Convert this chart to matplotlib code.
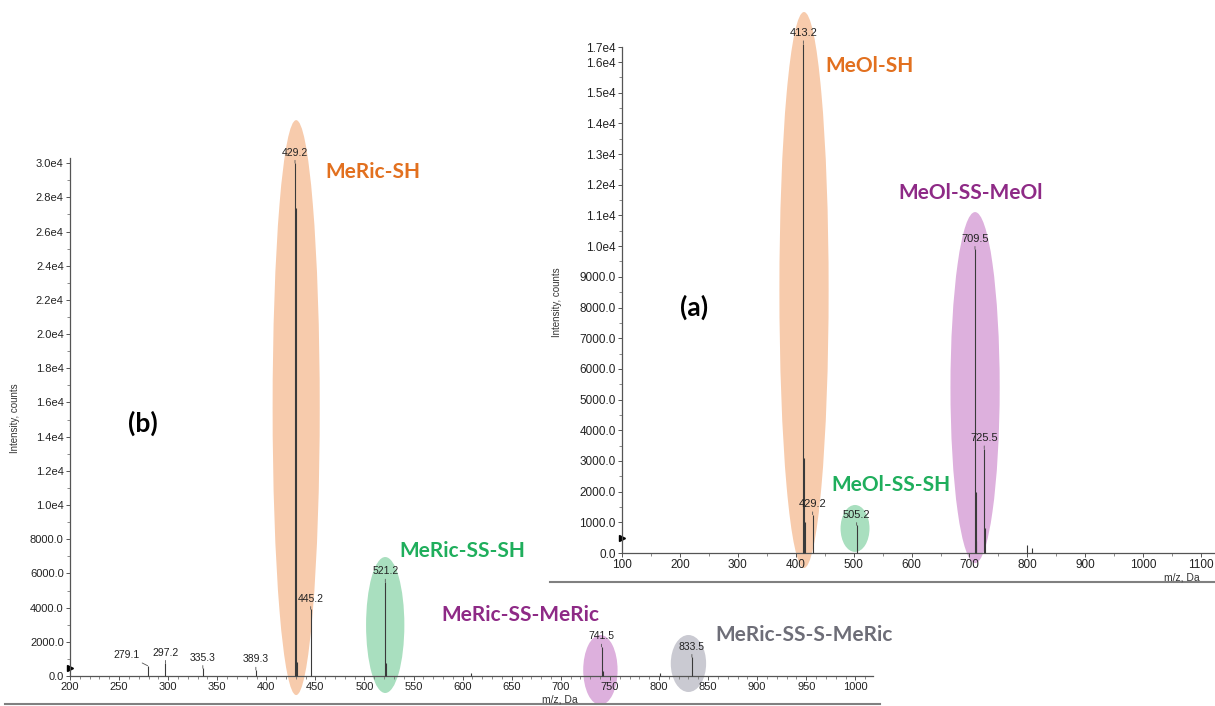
import matplotlib.pyplot as plt
from matplotlib.patches import Ellipse
from matplotlib.lines import Line2D
import numpy as np

# ---- dados do espectro (b) ----
mz_b = [279.1, 297.2, 335.3, 389.3, 429.2, 430.2, 431.2, 445.2, 521.2, 522.2, 608.0, 741.5, 742.5, 801.0, 833.5]
int_b = [600, 750, 450, 350, 30000, 27400, 800, 3900, 5500, 750, 150, 1700, 300, 150, 1100]
rotulos_b = [279.1, 297.2, 335.3, 389.3, 429.2, 445.2, 521.2, 741.5, 833.5]
yticks_b = [0, 2000, 4000, 6000, 8000, 10000, 12000, 14000, 16000, 18000, 20000, 22000, 24000, 26000, 28000, 30000]
yticklabels_b = ['0.0', '2000.0', '4000.0', '6000.0', '8000.0', '1.0e4', '1.2e4', '1.4e4', '1.6e4',
                 '1.8e4', '2.0e4', '2.2e4', '2.4e4', '2.6e4', '2.8e4', '3.0e4']
xticks_b = list(range(200, 1001, 50))

# ---- dados do espectro (a) ----
mz_a = [413.2, 414.2, 415.2, 429.2, 505.2, 709.5, 710.5, 711.5, 725.5, 726.5, 798.5, 807.5]
int_a = [16600, 3100, 1000, 1250, 900, 9900, 2000, 400, 3400, 800, 250, 150]
rotulos_a = [413.2, 429.2, 505.2, 709.5, 725.5]
yticks_a = [0, 1000, 2000, 3000, 4000, 5000, 6000, 7000, 8000, 9000, 10000, 11000, 12000,
            13000, 14000, 15000, 16000, 16490]
yticklabels_a = ['0.0', '1000.0', '2000.0', '3000.0', '4000.0', '5000.0', '6000.0', '7000.0',
                 '8000.0', '9000.0', '1.0e4', '1.1e4', '1.2e4', '1.3e4', '1.4e4', '1.5e4', '1.6e4', '1.7e4']
xticks_a = list(range(100, 1101, 100))

# cores das especies
cor_lar = '#E2701F'
cor_verde = '#1FAE5C'
cor_roxo = '#8E2A86'
cor_cinza = '#6E6E78'

fig = plt.figure(figsize=(12.15, 7.06), dpi=100)
W, H = 1215, 706


def eixo(ax, fs):
    for s in ['top', 'right']:
        ax.spines[s].set_visible(False)
    for s in ['left', 'bottom']:
        ax.spines[s].set_color('#555555')
        ax.spines[s].set_linewidth(0.9)
    ax.tick_params(axis='both', which='major', length=3, width=0.7, color='#555555',
                   labelsize=fs, labelcolor='#222222', pad=1.5)
    ax.tick_params(axis='both', which='minor', length=2, width=0.6, color='#777777')
    for t in ax.get_xticklabels() + ax.get_yticklabels():
        t.set_fontfamily('Liberation Sans')


def picos(ax, mz, it, rot, fs):
    ax.vlines(mz, 0, it, color='#3a3a3a', linewidth=0.8, zorder=3, clip_on=False)
    alt = dict(zip(mz, it))
    for m in rot:
        dx = -15 if m == 279.1 else 0
        ax.annotate(f'{m:.1f}', xy=(m, alt[m]), xytext=(dx, 4), textcoords='offset points',
                    ha='center', va='bottom', fontsize=fs, color='#222222',
                    family='Liberation Sans', zorder=4, annotation_clip=False,
                    arrowprops=dict(arrowstyle='-', color='#555555', lw=0.6, shrinkA=0, shrinkB=0))


# ===== painel (b) =====
ax_b = fig.add_axes([70 / W, 1 - 676 / H, (873 - 70) / W, (676 - 158) / H])
ax_b.set_xlim(200, 1018)
ax_b.set_ylim(0, 30300)
ax_b.set_xticks(xticks_b)
ax_b.set_xticks(np.arange(200, 1019, 10), minor=True)
ax_b.set_yticks(yticks_b)
ax_b.set_yticklabels(yticklabels_b)
ax_b.set_yticks(np.arange(0, 30001, 1000), minor=True)
eixo(ax_b, 8)

for (cx, cy, w, h, c) in [(430.4, 15700, 48, 33630, '#F7CBAC'), (521.1, 2983, 39, 7954, '#A9DFBF'),
                          (740.3, 351, 35, 4094, '#DDB0DD'), (830.0, 731, 36, 3334, '#CACAD2')]:
    ax_b.add_patch(Ellipse((cx, cy), w, h, facecolor=c, edgecolor='none', zorder=1, clip_on=False))

picos(ax_b, mz_b, int_b, rotulos_b, 7.5)
ax_b.plot([0], [470], marker='>', color='black', markersize=5, transform=ax_b.get_yaxis_transform(),
          clip_on=False)

kw = dict(family='Lato', fontweight='bold', fontsize=15, va='center', ha='left')
ax_b.text(460, 29470, 'MeRic-SH', color=cor_lar, **kw)
ax_b.text(536, 7310, 'MeRic-SS-SH', color=cor_verde, **kw)
ax_b.text(578, 3570, 'MeRic-SS-MeRic', color=cor_roxo, **kw)
ax_b.text(857, 2400, 'MeRic-SS-S-MeRic', color=cor_cinza, **kw)
ax_b.text(259, 14800, '(b)', color='black', family='Lato', fontweight='bold', fontsize=19,
          va='center', ha='left')

fig.text(15 / W, 1 - 418 / H, 'Intensity, counts', rotation=90, fontsize=7, color='#333333',
         family='Liberation Sans', ha='center', va='center')
fig.text(560 / W, 1 - 700 / H, 'm/z, Da', fontsize=7.5, color='#333333',
         family='Liberation Sans', ha='center', va='center')
fig.add_artist(Line2D([5 / W, 880 / W], [1 - 704 / H, 1 - 704 / H], color='#808080', lw=1.5))

# ===== painel (a) =====
ax_a = fig.add_axes([622 / W, 1 - 553 / H, (1215 - 622) / W, (553 - 47) / H])
ax_a.set_zorder(2)
ax_a.patch.set_facecolor('white')
ax_a.set_xlim(100, 1124)
ax_a.set_ylim(0, 16490)
ax_a.set_xticks(xticks_a)
ax_a.set_xticks(np.arange(100, 1124, 50), minor=True)
ax_a.set_yticks(yticks_a)
ax_a.set_yticklabels(yticklabels_a)
ax_a.set_yticks(np.arange(0, 16001, 500), minor=True)
eixo(ax_a, 8.5)

for (cx, cy, w, h, c) in [(414.3, 8570, 85, 18120, '#F7CBAC'), (502.4, 800, 50, 1530, '#A9DFBF'),
                          (709.7, 5390, 85, 11440, '#DDB0DD')]:
    ax_a.add_patch(Ellipse((cx, cy), w, h, facecolor=c, edgecolor='none', zorder=1, clip_on=False))

picos(ax_a, mz_a, int_a, rotulos_a, 8)
ax_a.plot([0], [490], marker='>', color='black', markersize=5, transform=ax_a.get_yaxis_transform(),
          clip_on=False)

ax_a.text(452, 15870, 'MeOl-SH', color=cor_lar, **kw)
ax_a.text(577, 11730, 'MeOl-SS-MeOl', color=cor_roxo, **kw)
ax_a.text(461, 2216, 'MeOl-SS-SH', color=cor_verde, **kw)
ax_a.text(200, 8015, '(a)', color='black', family='Lato', fontweight='bold', fontsize=19,
          va='center', ha='left')

fig.text(557 / W, 1 - 302 / H, 'Intensity, counts', rotation=90, fontsize=7, color='#333333',
         family='Liberation Sans', ha='center', va='center')
fig.text(1182 / W, 1 - 577 / H, 'm/z, Da', fontsize=7.5, color='#333333',
         family='Liberation Sans', ha='center', va='center')
fig.add_artist(Line2D([550 / W, 1215 / W], [1 - 582 / H, 1 - 582 / H], color='#808080', lw=1.5))

fig.savefig('out.png', dpi=100)
